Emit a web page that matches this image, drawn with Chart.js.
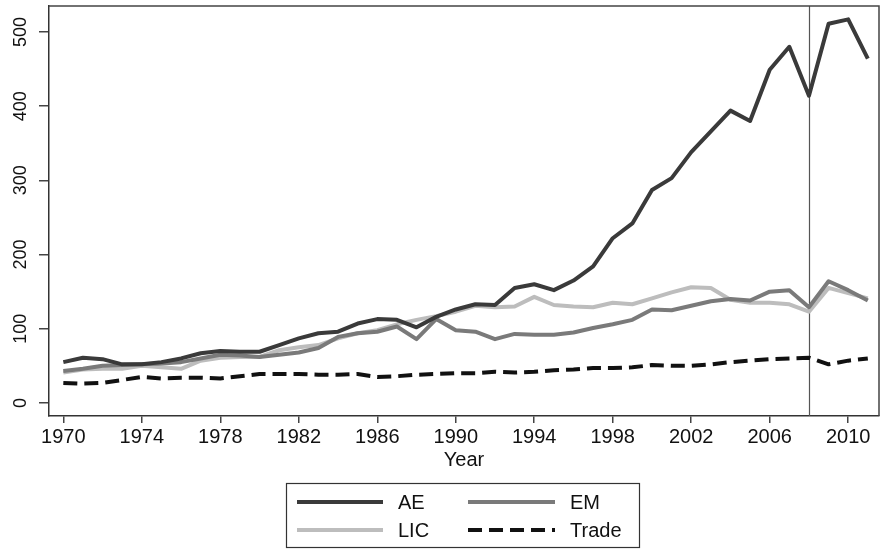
<!DOCTYPE html>
<html>
<head>
<meta charset="utf-8">
<script src="https://cdn.jsdelivr.net/npm/chart.js@4/dist/chart.umd.min.js"></script>
<style>
  html, body { margin: 0; padding: 0; background: #fff; }
  #wrap { width: 880px; height: 550px; position: relative; }
</style>
</head>
<body>
<div id="wrap"><canvas id="chart"></canvas></div>
<script>
// data
const years = [1970,1971,1972,1973,1974,1975,1976,1977,1978,1979,1980,1981,1982,1983,1984,1985,1986,1987,1988,1989,
  1990,1991,1992,1993,1994,1995,1996,1997,1998,1999,2000,2001,2002,2003,2004,2005,2006,2007,2008,2009,2010,2011];
const ae = [55,61,59,52,52,55,60,67,70,69,69,78,87,94,96,107,113,112,102,116,
  126,133,132,155,160,152,165,184,222,242,287,303,338,366,394,380,449,480,414,511,517,464];
const em = [43,46,50,51,52,53,55,60,65,64,62,65,68,74,89,94,96,103,86,113,
  98,96,86,93,92,92,95,101,106,112,126,125,131,137,140,138,150,152,129,164,152,138];
const lic = [41,45,46,46,50,48,46,57,61,62,62,71,75,78,87,94,98,106,112,117,
  123,131,129,130,143,132,130,129,135,133,141,149,156,155,139,135,135,133,123,155,148,141];
const trade = [27,26,27,31,35,33,34,34,33,36,39,39,39,38,38,39,35,36,38,39,
  40,40,42,41,42,44,45,47,47,48,51,50,50,52,55,57,59,60,61,52,57,60];
const xTicks = [1970,1974,1978,1982,1986,1990,1994,1998,2002,2006,2010];
const yTicks = [0,100,200,300,400,500];
const crisisYear = 2008;

const FONT = '"Liberation Sans", Arial, Helvetica, sans-serif';

function pts(vals) { return years.map((y, i) => ({ x: y, y: vals[i] })); }

const extras = {
  id: 'extras',
  beforeDatasetsDraw(chart) {
    const { ctx, chartArea: a, scales } = chart;
    const x = Math.round(scales.x.getPixelForValue(crisisYear)) + 0.5;
    ctx.save();
    ctx.strokeStyle = '#555';
    ctx.lineWidth = 1.2;
    ctx.beginPath();
    ctx.moveTo(x, a.top);
    ctx.lineTo(x, a.bottom);
    ctx.stroke();
    ctx.restore();
  },
  afterDraw(chart) {
    const { ctx, chartArea: a } = chart;
    ctx.save();
    // frame top + right
    ctx.strokeStyle = '#444';
    ctx.lineWidth = 1.5;
    ctx.beginPath();
    ctx.moveTo(a.left, a.top);
    ctx.lineTo(a.right, a.top);
    ctx.lineTo(a.right, a.bottom);
    ctx.stroke();

    // legend box, 2 columns
    ctx.lineWidth = 1.2;
    ctx.strokeStyle = '#333';
    ctx.strokeRect(286.5, 483.5, 353, 64);
    const cols = [[297, 383, 398], [468, 555, 570]];
    const rows = [502, 530];
    ctx.font = '20px ' + FONT;
    ctx.textBaseline = 'middle';
    ctx.fillStyle = '#111';
    chart.data.datasets.forEach((ds, i) => {
      const c = cols[i % 2], r = rows[Math.floor(i / 2)];
      ctx.strokeStyle = ds.borderColor;
      ctx.lineWidth = ds.borderWidth;
      ctx.setLineDash(ds.borderDash || []);
      ctx.beginPath();
      ctx.moveTo(c[0], r);
      ctx.lineTo(c[1], r);
      ctx.stroke();
      ctx.setLineDash([]);
      ctx.fillText(ds.label, c[2], r + 1);
    });
    ctx.restore();
  }
};

new Chart(document.getElementById('chart'), {
  type: 'line',
  data: {
    datasets: [
      { label: 'AE', data: pts(ae), borderColor: '#3a3a3a', borderWidth: 4 },
      { label: 'EM', data: pts(em), borderColor: '#7a7a7a', borderWidth: 4 },
      { label: 'LIC', data: pts(lic), borderColor: '#bdbdbd', borderWidth: 4 },
      { label: 'Trade', data: pts(trade), borderColor: '#111', borderWidth: 4, borderDash: [14, 7] }
    ]
  },
  options: {
    responsive: true,
    maintainAspectRatio: false,
    animation: false,
    events: [],
    elements: { point: { radius: 0 }, line: { tension: 0, fill: false, borderCapStyle: 'butt', borderJoinStyle: 'round' } },
    layout: { autoPadding: false, padding: { top: 6, right: 1, left: 0, bottom: 78 } },
    plugins: { legend: { display: false }, tooltip: { enabled: false } },
    scales: {
      x: {
        type: 'linear',
        min: 1969.27, max: 2011.57,
        afterBuildTicks: s => { s.ticks = xTicks.map(v => ({ value: v })); },
        afterFit: s => { s.height = 56; s.paddingLeft = 0; s.paddingRight = 0; },
        grid: { display: true, drawOnChartArea: false, tickLength: 7, color: '#444', lineWidth: 1.5 },
        border: { display: true, color: '#333', width: 1.5 },
        ticks: { font: { family: FONT, size: 20 }, color: '#111', padding: 2, maxRotation: 0, callback: v => String(v) },
        title: { display: true, text: 'Year', font: { family: FONT, size: 20 }, color: '#111', padding: 0 }
      },
      y: {
        min: -17.6, max: 535,
        afterBuildTicks: s => { s.ticks = yTicks.map(v => ({ value: v })); },
        afterFit: s => { s.width = 49; s.paddingTop = 0; s.paddingBottom = 0; },
        grid: { display: true, drawOnChartArea: false, tickLength: 10, color: '#444', lineWidth: 1.5 },
        border: { display: true, color: '#333', width: 1.5 },
        ticks: { font: { family: FONT, size: 18 }, color: '#111', padding: 3, minRotation: 90, maxRotation: 90, crossAlign: 'center' }
      }
    }
  },
  plugins: [extras]
});
</script>
</body>
</html>
